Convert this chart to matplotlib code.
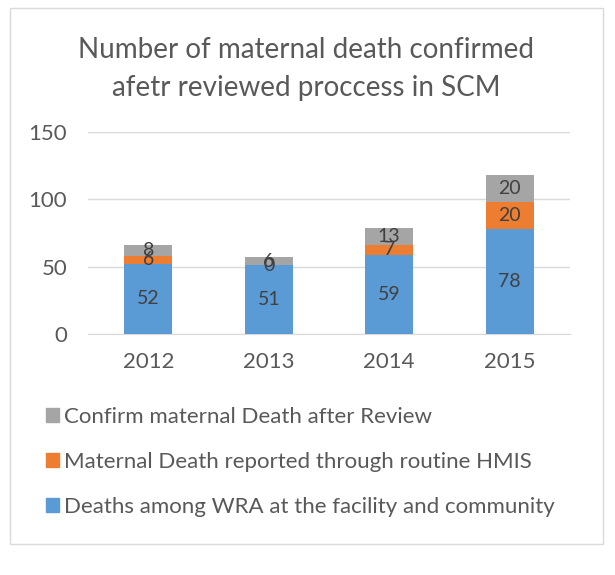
import matplotlib
matplotlib.use("Agg")
import matplotlib.pyplot as plt
from matplotlib.patches import Rectangle, Patch

plt.rcParams['font.family'] = ['Lato', 'DejaVu Sans']

years = ['2012', '2013', '2014', '2015']
wra_deaths = [52, 51, 59, 78]
hmis_deaths = [6, 0, 7, 20]
confirmed_deaths = [8, 6, 13, 20]
series_names = ['Deaths among WRA at the facility and community',
                'Maternal Death reported through routine HMIS',
                'Confirm maternal Death after Review']
yticks = [0, 50, 100, 150]

colors = ['#5B9BD5', '#ED7D31', '#A5A5A5']
txt = '#595959'
lbl = '#404040'

fig = plt.figure(figsize=(6.15, 5.75), dpi=100)
fig.patches.append(Rectangle((10/615, 1-544/575), 593/615, 536/575,
                             transform=fig.transFigure, fill=False,
                             edgecolor='#D9D9D9', linewidth=1.0))

ax = fig.add_axes([88/615, 1-334/575, 482/615, 202/575])
x = list(range(len(years)))
bottom = [0]*len(years)
for vals, c in zip([wra_deaths, hmis_deaths, confirmed_deaths], colors):
    ax.bar(x, vals, width=0.4, bottom=bottom, color=c, zorder=3)
    for xi, b, v in zip(x, bottom, vals):
        ax.text(xi, b + v/2, str(v), ha='center', va='center', fontsize=14,
                color=lbl, zorder=4)
    bottom = [b + v for b, v in zip(bottom, vals)]

ax.set_xlim(-0.5, 3.5)
ax.set_ylim(0, 150)
ax.set_yticks(yticks)
ax.set_xticks(x)
ax.set_xticklabels(years)
ax.tick_params(axis='both', length=0, labelsize=16, labelcolor=txt)
ax.tick_params(axis='x', pad=13)
ax.tick_params(axis='y', pad=15)
ax.grid(axis='y', color='#D9D9D9', linewidth=1, zorder=0)
for s in ['top', 'right', 'left']:
    ax.spines[s].set_visible(False)
ax.spines['bottom'].set_color('#D9D9D9')
ax.set_facecolor('none')

fig.text(306/615, 1-69/575, 'Number of maternal death confirmed\nafetr reviewed proccess in SCM',
         ha='center', va='center', fontsize=20, color=txt, linespacing=1.6)

handles = [Patch(color=c) for c in colors][::-1]
fig.legend(handles, series_names[::-1], loc='upper left',
           bbox_to_anchor=(46/615, 1-407/575), frameon=False, fontsize=16,
           labelcolor=txt, handlelength=0.6, handleheight=0.6,
           handletextpad=0.2, labelspacing=1.12, borderaxespad=0, borderpad=0)

fig.savefig('out.png', dpi=100)
